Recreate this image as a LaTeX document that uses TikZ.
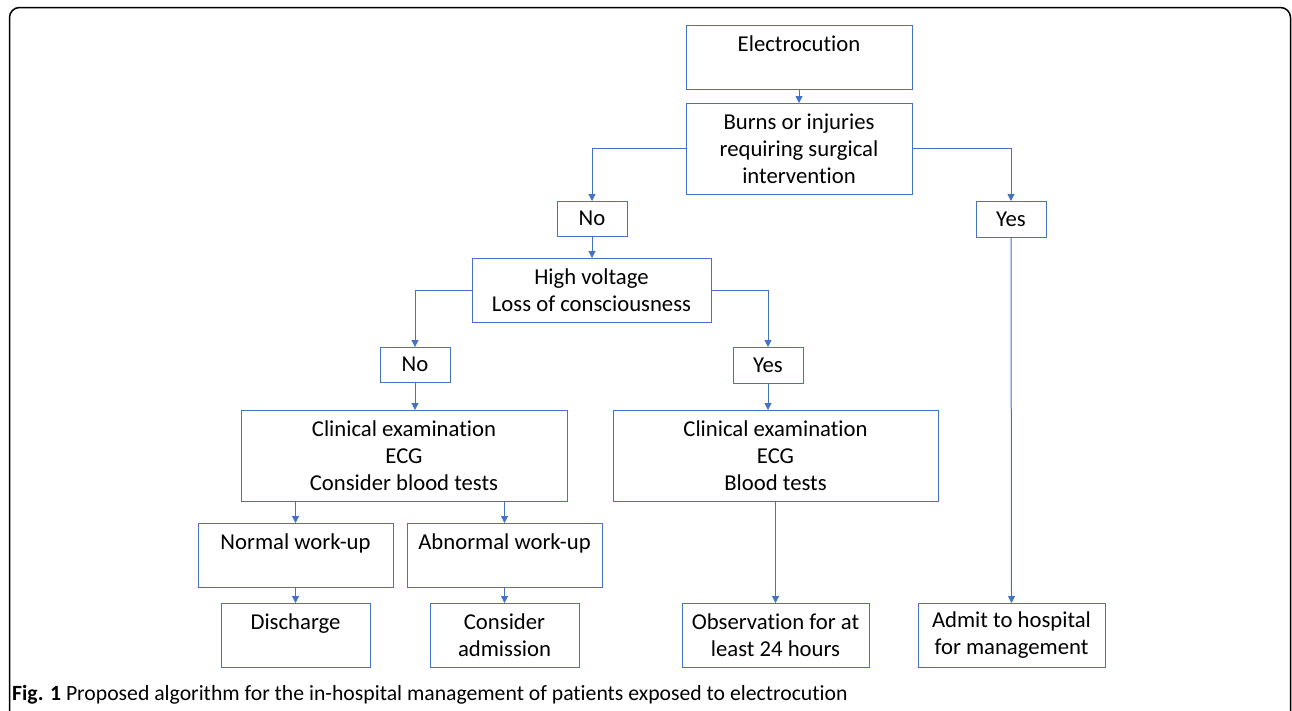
\documentclass[tikz,border=0pt]{standalone}
\usepackage{fontspec}
\setmainfont{Carlito}[Ligatures={NoCommon}]
\usetikzlibrary{arrows.meta}
\definecolor{bl}{HTML}{4472C4}
\newcommand\T[3]{\parbox[c][#2pt][c]{#1pt}{\centering #3}}
\tikzset{
  box/.style={draw=bl, line width=1pt, inner sep=0pt, outer sep=0pt, font=\fontsize{22.7}{27}\selectfont},
  arr/.style={draw=bl, line width=1pt, -{Triangle[length=7pt,width=7pt]}},
}
\begin{document}
\begin{tikzpicture}[x=1pt,y=-1pt]
\useasboundingbox (0,0) rectangle (1292,710);
\begin{scope}
\clip (0,0) rectangle (1292,710);
\draw[line width=1.5pt, rounded corners=10pt] (9.5,7.5) rectangle (1290.5,760);
\end{scope}
\node[box] (e) at (799,57) {\T{226}{64}{Electrocution\\ \mbox{}}};
\node[box] (b) at (799,148.5) {\T{226}{91}{Burns or injuries\\requiring surgical\\intervention}};
\node[box] (n1) at (592,218.5) {\T{70}{35}{No}};
\node[box] (y1) at (1011,219) {\T{70}{36}{Yes}};
\node[box] (hv) at (591.5,290) {\T{239}{64}{High voltage\\Loss of consciousness}};
\node[box] (n2) at (415,364.5) {\T{70}{35}{No}};
\node[box] (y2) at (768,365) {\T{70}{36}{Yes}};
\node[box] (c1) at (404,455.5) {\T{326}{91}{Clinical examination\\ECG\\Consider blood tests}};
\node[box] (c2) at (775.5,455.5) {\T{325}{91}{Clinical examination\\ECG\\Blood tests}};
\node[box] (nw) at (295.5,555) {\T{195}{64}{Normal work-up\\ \mbox{}}};
\node[box] (aw) at (504.5,555) {\T{195}{64}{Abnormal work-up\\ \mbox{}}};
\node[box] (d) at (295.5,635) {\T{149}{64}{Discharge\\ \mbox{}}};
\node[box] (ca) at (504.5,635) {\T{149}{64}{Consider\\admission}};
\node[box] (ob) at (775.5,635) {\T{187}{64}{Observation for at\\least 24 hours}};
\node[box] (ad) at (1011.5,635) {\T{187}{64}{Admit to hospital\\for management}};
\node[anchor=base west, inner sep=0pt, font=\fontsize{21.7}{24}\selectfont] (cap) at (12,700) {\textbf{Fig. 1} Proposed algorithm for the in-hospital management of patients exposed to electrocution};
\draw[arr] (e.south) -- (b.north);
\draw[arr] (b.west) -| (n1.north);
\draw[arr] (b.east) -| (y1.north);
\draw[arr] (n1.south) -- (hv.north -| n1.south);
\draw[arr] (hv.west) -| (n2.north);
\draw[arr] (hv.east) -| (y2.north);
\draw[arr] (n2.south) -- (c1.north -| n2.south);
\draw[arr] (y2.south) -- (c2.north -| y2.south);
\draw[arr] (c1.south -| nw.north) -- (nw.north);
\draw[arr] (c1.south -| aw.north) -- (aw.north);
\draw[arr] (nw.south) -- (d.north);
\draw[arr] (aw.south) -- (ca.north);
\draw[arr] (c2.south) -- (ob.north);
\draw[arr] (y1.south) -- (ad.north);
\end{tikzpicture}
\end{document}
